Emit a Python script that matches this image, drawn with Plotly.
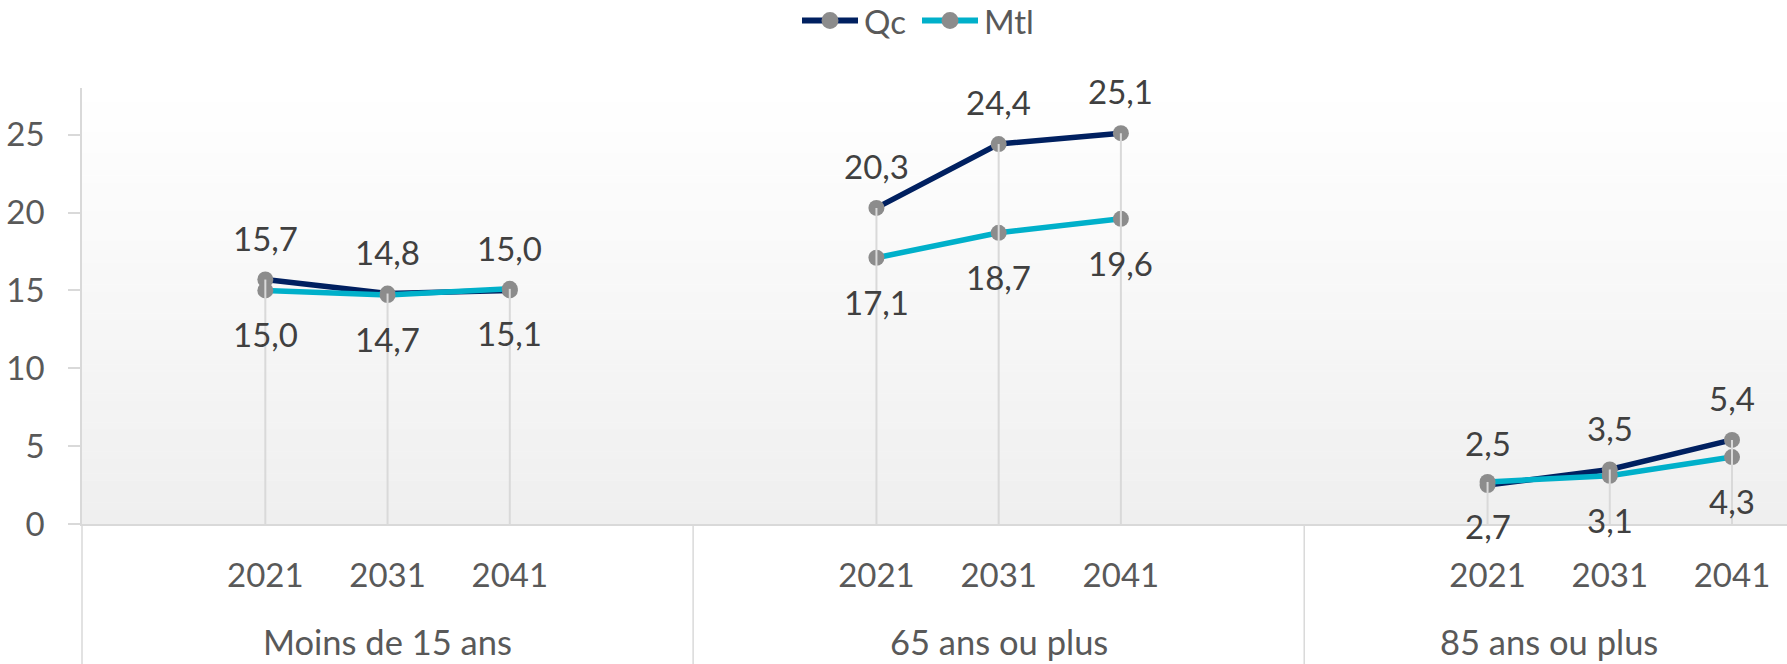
import plotly.graph_objects as go

groups = ["Moins de 15 ans", "65 ans ou plus", "85 ans ou plus"]
years = ["2021", "2031", "2041"]
qc = [[15.7, 14.8, 15.0], [20.3, 24.4, 25.1], [2.5, 3.5, 5.4]]
mtl = [[15.0, 14.7, 15.1], [17.1, 18.7, 19.6], [2.7, 3.1, 4.3]]
y_ticks = [0, 5, 10, 15, 20, 25]

FONT = "Lato"
FS = 33
W, H = 1787, 664
ML, MR, MT, MB = 82, 0, 88, 140
XR = [-0.5, 13.45]
YR = [0, 28]
PW, PH = W - ML - MR, H - MT - MB


def fmt(v):
    return f"{v:.1f}".replace(".", ",")


def xpos(g, j):
    return 5 * g + 1 + j


def build(series):
    xs, ys = [], []
    for g, vals in enumerate(series):
        for j, v in enumerate(vals):
            xs.append(xpos(g, j))
            ys.append(v)
        xs.append(None)
        ys.append(None)
    return xs, ys


def px(x):
    return (x - XR[0]) / (XR[1] - XR[0])


def pp(x, y):
    return (x - ML) / PW, (H - MB - y) / PH


fig = go.Figure()
annotations = []
shapes = []

# background gradient
N = 60
top = (255, 255, 255)
bot = (239, 239, 239)
for i in range(N):
    t = (i + 0.5) / N
    c = tuple(round(top[k] + (bot[k] - top[k]) * t) for k in range(3))
    shapes.append(dict(type="rect", xref="paper", yref="paper",
                       x0=0, x1=1, y0=1 - (i + 1) / N - 0.001, y1=1 - i / N,
                       fillcolor=f"rgb{c}", line=dict(width=0), layer="below"))

series_list = [("Qc", qc, "#002060", True), ("Mtl", mtl, "#00B0CA", False)]
for name, series, color, above in series_list:
    xs, ys = build(series)
    fig.add_trace(go.Scatter(
        x=xs, y=ys, name=name, mode="lines+markers",
        line=dict(color=color, width=5.5),
        marker=dict(color="#8c8c8c", size=16),
        cliponaxis=False, connectgaps=False, showlegend=False,
    ))
    for x, v in zip(xs, ys):
        if v is None:
            continue
        annotations.append(dict(
            x=x, y=v, xref="x", yref="y", text=fmt(v), showarrow=False,
            yanchor="bottom" if above else "top",
            yshift=20 if above else -22,
            font=dict(family=FONT, size=FS, color="#404040")))

# drop lines
dx, dy = [], []
for g in range(len(groups)):
    for j in range(len(years)):
        dx += [xpos(g, j), xpos(g, j), None]
        dy += [max(qc[g][j], mtl[g][j]), 0, None]
fig.add_trace(go.Scatter(x=dx, y=dy, mode="lines", showlegend=False,
                         line=dict(color="#d9d9d9", width=2), hoverinfo="skip"))

# category-axis separators
ybot = -MB / PH
for xv in [XR[0], 4.5, 9.5]:
    shapes.append(dict(type="line", xref="paper", yref="paper",
                       x0=px(xv), x1=px(xv), y0=0, y1=ybot,
                       line=dict(color="#d9d9d9", width=1.5)))

group_centers = [2, 7, 11.5]
for g, name in enumerate(groups):
    annotations.append(dict(text=name, x=group_centers[g], xref="x",
                            y=-(641 - (MT + PH)) / PH,
                            yref="paper", yanchor="middle", showarrow=False,
                            font=dict(family=FONT, size=34.5, color="#595959")))

# custom legend (line + marker + label)
leg_y = 20.5
leg_x0 = [802, 922]
for (name, _, color, _), lx in zip(series_list, leg_x0):
    a0, b0 = pp(lx, leg_y)
    a1, _b = pp(lx + 56, leg_y)
    shapes.append(dict(type="line", xref="paper", yref="paper",
                       x0=a0, x1=a1, y0=b0, y1=b0,
                       line=dict(color=color, width=6)))
    c0, d0 = pp(lx + 28 - 8.5, leg_y + 8.5)
    c1, d1 = pp(lx + 28 + 8.5, leg_y - 8.5)
    shapes.append(dict(type="circle", xref="paper", yref="paper",
                       x0=c0, x1=c1, y0=d0, y1=d1,
                       fillcolor="#8c8c8c", line=dict(width=0)))
    tx, ty = pp(lx + 60, leg_y)
    annotations.append(dict(text=name, x=tx, y=ty, xref="paper", yref="paper",
                            xanchor="left", yanchor="middle", showarrow=False,
                            font=dict(family=FONT, size=FS, color="#595959")))

tickvals = [xpos(g, j) for g in range(len(groups)) for j in range(len(years))]
ticktext = [years[j] for g in range(len(groups)) for j in range(len(years))]

fig.update_layout(
    width=W, height=H,
    margin=dict(l=ML, r=MR, t=MT, b=MB, autoexpand=False),
    paper_bgcolor="white", plot_bgcolor="white",
    font=dict(family=FONT, size=FS, color="#595959"),
    shapes=shapes, annotations=annotations,
    showlegend=False,
    xaxis=dict(range=XR, tickvals=tickvals, ticktext=ticktext,
               showgrid=False, zeroline=False, showline=True,
               linecolor="#d9d9d9", linewidth=1.5, ticks="",
               ticklabelstandoff=22,
               tickfont=dict(family=FONT, size=FS, color="#595959")),
    yaxis=dict(range=YR, tickvals=y_ticks, showgrid=False, zeroline=False,
               showline=True, linecolor="#d9d9d9", linewidth=1.5,
               ticks="outside", ticklen=12, tickcolor="#d9d9d9", tickwidth=1.5,
               ticklabelstandoff=17,
               tickfont=dict(family=FONT, size=FS, color="#595959")),
)

fig.write_html("out.html",
               config={"displayModeBar": False},
               post_script="document.body.style.margin='0';"
                           "document.body.style.overflow='hidden';")
